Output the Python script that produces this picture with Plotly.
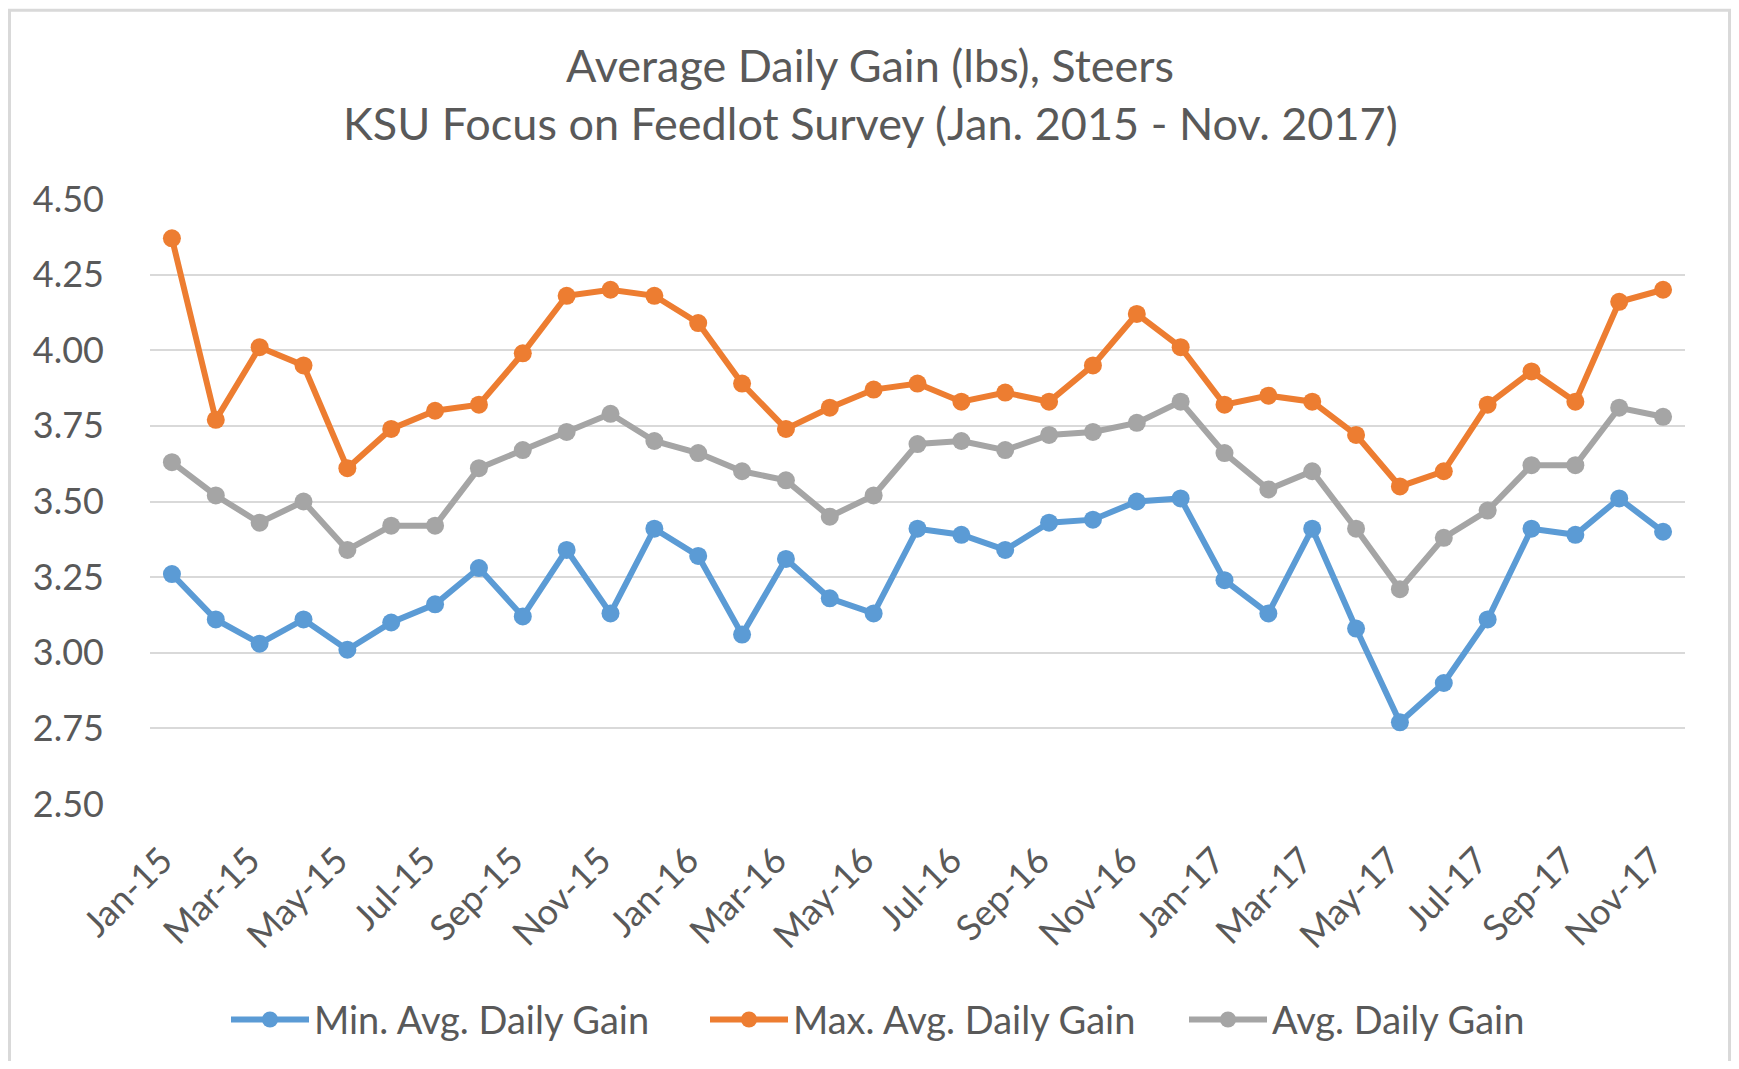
import plotly.graph_objects as go

months = ["Jan-15", "Feb-15", "Mar-15", "Apr-15", "May-15", "Jun-15", "Jul-15", "Aug-15", "Sep-15", "Oct-15", "Nov-15", "Dec-15",
          "Jan-16", "Feb-16", "Mar-16", "Apr-16", "May-16", "Jun-16", "Jul-16", "Aug-16", "Sep-16", "Oct-16", "Nov-16", "Dec-16",
          "Jan-17", "Feb-17", "Mar-17", "Apr-17", "May-17", "Jun-17", "Jul-17", "Aug-17", "Sep-17", "Oct-17", "Nov-17"]

min_adg = [3.26, 3.11, 3.03, 3.11, 3.01, 3.10, 3.16, 3.28, 3.12, 3.34, 3.13, 3.41,
           3.32, 3.06, 3.31, 3.18, 3.13, 3.41, 3.39, 3.34, 3.43, 3.44, 3.50, 3.51,
           3.24, 3.13, 3.41, 3.08, 2.77, 2.90, 3.11, 3.41, 3.39, 3.51, 3.40]

max_adg = [4.37, 3.77, 4.01, 3.95, 3.61, 3.74, 3.80, 3.82, 3.99, 4.18, 4.20, 4.18,
           4.09, 3.89, 3.74, 3.81, 3.87, 3.89, 3.83, 3.86, 3.83, 3.95, 4.12, 4.01,
           3.82, 3.85, 3.83, 3.72, 3.55, 3.60, 3.82, 3.93, 3.83, 4.16, 4.20]

avg_adg = [3.63, 3.52, 3.43, 3.50, 3.34, 3.42, 3.42, 3.61, 3.67, 3.73, 3.79, 3.70,
           3.66, 3.60, 3.57, 3.45, 3.52, 3.69, 3.70, 3.67, 3.72, 3.73, 3.76, 3.83,
           3.66, 3.54, 3.60, 3.41, 3.21, 3.38, 3.47, 3.62, 3.62, 3.81, 3.78]

series_names = ["Min. Avg. Daily Gain", "Max. Avg. Daily Gain", "Avg. Daily Gain"]
series_colors = ["#5B9BD5", "#ED7D31", "#A5A5A5"]
title_lines = ["Average Daily Gain (lbs), Steers", "KSU Focus on Feedlot Survey (Jan. 2015 - Nov. 2017)"]
y_ticks = [2.50, 2.75, 3.00, 3.25, 3.50, 3.75, 4.00, 4.25, 4.50]

FONT = "Lato"
TXT = "#595959"
# page has an 8px body margin; figure coordinates = page coordinates - 8
W, H = 1723, 1053
L, R, T, B = 142, 1677, 190.5, 796
pw, ph = R - L, B - T

def px_x(x):
    return (x - L) / pw

def px_y(y):
    return (B - y) / ph

fig = go.Figure()
for name, vals, col in zip(series_names, [min_adg, max_adg, avg_adg], series_colors):
    fig.add_trace(go.Scatter(
        x=months, y=vals, name=name, mode="lines+markers",
        line=dict(color=col, width=6),
        marker=dict(color=col, size=18),
    ))

fig.update_layout(
    width=W, height=H,
    margin=dict(l=L, r=W - R, t=T, b=H - B, autoexpand=False),
    paper_bgcolor="white", plot_bgcolor="white",
    font=dict(family=FONT, color=TXT, size=36),
    showlegend=True,
    legend=dict(orientation="h", xanchor="left", yanchor="middle",
                x=px_x(218), y=px_y(1012), font=dict(size=38, color=TXT),
                itemwidth=78, traceorder="normal", entrywidth=386, entrywidthmode="pixels"),
)

fig.update_xaxes(
    type="category", range=[-0.5, len(months) - 0.5],
    tickmode="array", tickvals=months[::2], ticktext=months[::2],
    tickangle=-45, showgrid=False, showline=False, zeroline=False,
    ticks="", ticklabelstandoff=27, ticklabelshift=-10, tickfont=dict(size=36, color=TXT),
)
fig.update_yaxes(
    range=[2.5, 4.5], tickmode="array", tickvals=y_ticks,
    ticktext=[f"{v:.2f}" for v in y_ticks],
    showgrid=True, gridcolor="#D9D9D9", gridwidth=2.2,
    zeroline=False, showline=False, ticks="", ticklabelstandoff=45,
    tickfont=dict(size=36, color=TXT),
)

fig.add_annotation(text=title_lines[0], xref="paper", yref="paper",
                   x=px_x(862), y=px_y(56), xanchor="center", yanchor="middle",
                   showarrow=False, font=dict(size=45, color=TXT, family=FONT))
fig.add_annotation(text=title_lines[1], xref="paper", yref="paper",
                   x=px_x(862), y=px_y(114), xanchor="center", yanchor="middle",
                   showarrow=False, font=dict(size=45, color=TXT, family=FONT))

fig.add_shape(type="rect", xref="paper", yref="paper",
              x0=px_x(1.5), x1=px_x(1721.5), y0=px_y(1080), y1=px_y(1.5),
              line=dict(color="#D9D9D9", width=3), fillcolor="rgba(0,0,0,0)", layer="below")

fig.write_html("out.html")
